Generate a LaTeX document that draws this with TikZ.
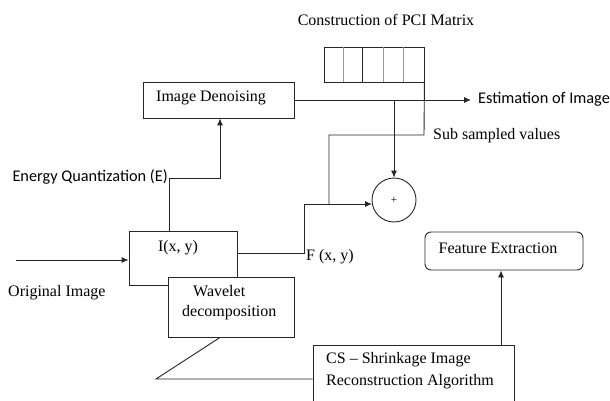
\documentclass[tikz,border=0pt]{standalone}
\usepackage{fontspec}
\setmainfont{Liberation Serif}
\newfontfamily\calib{Carlito}
\usetikzlibrary{arrows.meta}
\begin{document}
\begin{tikzpicture}[x=1pt,y=-1pt,
  font=\fontsize{16}{18}\selectfont,
  ln/.style={line width=0.9pt, draw=black!85},
  arr/.style={ln, -{Latex[length=7pt,width=6pt]}},
  box/.style={ln, fill=white, rectangle, inner sep=0pt},
  lbl/.style={inner sep=0pt}]
\useasboundingbox[fill=white] (0,0) rectangle (610,401);

% boxes
\node[box, minimum width=151pt, minimum height=36pt] (den) at (218.5,100) {};
\node[box, minimum width=108pt, minimum height=54pt] (ixy) at (183,258) {};
\node[box, minimum width=126pt, minimum height=60pt] (wav) at (231,307) {};
\node[box, minimum width=201pt, minimum height=66pt] (cs) at (413.5,378) {};
\node[box, rounded corners=6pt, minimum width=158pt, minimum height=38pt] (fe) at (504,251) {};
\node[box, minimum width=100pt, minimum height=35pt] (pci) at (374,64.5) {};
\node[ln, circle, fill=white, minimum size=44pt, inner sep=0pt] (circ) at (394,200) {};

% PCI cells
\draw[line width=0.9pt, gray!80] (343,47) -- (343,82);
\draw[ln] (362,47) -- (362,82);
\draw[line width=0.9pt, gray!80] (383,47) -- (383,82);
\draw[line width=0.9pt, gray!80] (403,47) -- (403,82);

% labels
\node[lbl] (ttl) at (386,20) {Construction of PCI Matrix};
\node[lbl, anchor=west] (dent) at (156,98) {Image Denoising};
\node[lbl, anchor=west] (est) at (478,99) {\calib\fontsize{16.3}{18}\selectfont Estimation of Image};
\node[lbl, anchor=west] (sub) at (433,136) {Sub sampled values};
\node[lbl, anchor=east] (eq) at (168,177) {\calib\fontsize{16.3}{18}\selectfont Energy Quantization (E)};
\node[lbl, anchor=west] (orig) at (8,293) {Original Image};
\node[lbl, anchor=west] (fl) at (306,257) {F (x, y)};
\node[lbl] (il) at (178,248) {I(x, y)};
\node[lbl, anchor=west, align=left, font=\fontsize{16}{20}\selectfont] (wl) at (182,303) {\hspace*{11pt}Wavelet\\decomposition};
\node[lbl, anchor=west, align=left, font=\fontsize{16}{22}\selectfont] (csl) at (326,371) {CS -- Shrinkage Image\\Reconstruction Algorithm};
\node[lbl] (fel) at (498,248) {Feature Extraction};
\node[lbl, font=\fontsize{11}{12}\selectfont] (plus) at (circ) {+};

% coordinates
\coordinate (estend) at (471,100);
\coordinate (s1) at (424,135);
\coordinate (s2) at (329,135);
\coordinate (fj) at (329,204);
\coordinate (f1) at (304,253);
\coordinate (f2) at (304,204);
\coordinate (f3) at (372,204);
\coordinate (e1) at (169,178);
\coordinate (e2) at (220,178);
\coordinate (o1) at (16,260);
\coordinate (w0) at (220,337);
\coordinate (w1) at (156,379);
\coordinate (c1) at (501,345);

% connectors
\draw[arr] (den.east) -- (estend);
\draw[arr] (circ.north |- den.east) -- (circ.north);
\draw[ln] (pci.south east) -- (s1) -- (s2) -- (fj);
\draw[arr] (ixy.east |- f1) -- (f1) -- (f2) -- (f3);
\draw[arr] (ixy.north -| e1) -- (e1) -- (e2) -- (den.south -| e2);
\draw[arr] (o1) -- (ixy.west |- o1);
\draw[ln] (wav.south -| w0) -- (w1) -- (cs.west |- w1);
\draw[arr] (cs.north -| c1) -- (fe.south -| c1);
\end{tikzpicture}
\end{document}
